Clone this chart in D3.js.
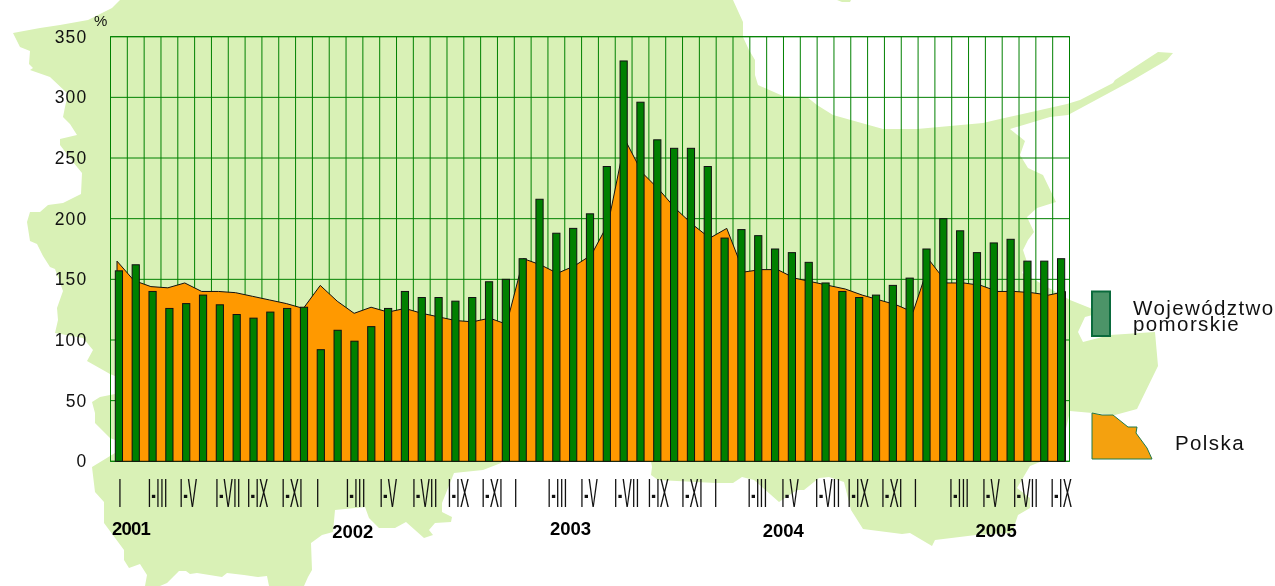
<!DOCTYPE html>
<html><head><meta charset="utf-8">
<script src="https://cdn.jsdelivr.net/npm/d3@7/dist/d3.min.js"></script>
<style>
html,body{margin:0;padding:0;background:#fff;overflow:hidden}
svg{display:block;will-change:transform}
text{font-family:"Liberation Sans",Arial,sans-serif;fill:#111}
</style></head><body>
<svg id="c" width="1275" height="586"></svg>
<script>
const months = d3.range(57);
const voivodeship = [157,162,140,126,130,137,129,121,118,123,126,127,
  92,108,99,111,126,140,135,135,132,135,148,150,
  167,216,188,192,204,243,330,296,265,258,258,243,
  184,191,186,175,172,164,147,140,135,137,145,151,
  175,200,190,172,180,183,165,165,167];
const poland = [165,149,144,143,147,140,140,139,136,133,130,126,
  145,132,122,127,123,126,122,119,116,115,118,113,
  167,162,155,161,170,196,265,238,224,208,195,184,
  192,156,158,158,151,148,145,142,137,133,129,123,
  165,147,147,145,140,140,139,137,140];
const yTicks = [0,50,100,150,200,250,300,350];
const romanLabels = ["I","I-III","I-V","I-VII","I-IX","I-XI"];
const years = ["2001","2002","2003","2004","2005"];
const seriesNames = ["Województwo","pomorskie","Polska"];

// decorative backdrop: silhouette of the region
const mapOutline = [[13,33],[40,28],[60,25],[88,20],[100,14],[112,8],[120,0],[733,0],[743,22],[743,37],[749,50],[755,60],[755,75],[758,85],[783,96],[807,97],[817,105],[833,115],[883,129],[917,129],[983,123],[1000,119],[1067,104],[1080,100],[1113,83],[1115,80],[1158,52],[1173,53],[1167,60],[1133,80],[1068,115],[1050,117],[1010,129],[1025,141],[1020,155],[1028,168],[1043,175],[1056,202],[1037,208],[1027,217],[1034,232],[1028,240],[1023,250],[1027,262],[1022,273],[1035,280],[1070,300],[1090,308],[1100,313],[1085,317],[1078,332],[1083,342],[1110,335],[1155,332],[1158,366],[1137,409],[1115,415],[1070,411],[1060,455],[1040,462],[1030,466],[1017,488],[1030,498],[1030,508],[1018,515],[1012,533],[976,535],[935,540],[932,546],[910,533],[902,534],[863,529],[851,510],[844,482],[829,477],[819,478],[804,490],[797,490],[779,502],[754,480],[742,477],[733,483],[715,483],[658,480],[651,475],[652,467],[650,455],[505,455],[501,463],[483,470],[454,473],[442,503],[442,512],[452,517],[451,522],[435,523],[429,530],[433,535],[424,538],[406,522],[395,528],[379,528],[369,518],[365,507],[335,510],[333,532],[322,535],[311,543],[312,570],[308,577],[304,586],[269,586],[267,576],[258,577],[244,575],[227,573],[222,577],[197,573],[190,574],[186,571],[179,571],[167,583],[160,586],[145,586],[147,575],[140,564],[129,568],[124,560],[124,550],[104,523],[104,502],[95,492],[92,467],[115,453],[115,440],[110,438],[95,423],[95,413],[92,402],[100,397],[115,394],[115,376],[110,374],[87,361],[93,350],[83,338],[55,333],[58,320],[57,308],[63,291],[55,269],[50,267],[43,256],[37,244],[30,241],[27,222],[30,212],[40,212],[48,205],[63,203],[81,194],[82,173],[73,162],[60,145],[60,139],[77,135],[70,124],[63,117],[65,107],[68,94],[50,77],[30,70],[33,68],[29,64],[30,51],[20,47]];
const tinyIsland = [[837,0],[851,0],[850,2],[842,2]];
const legendShape = [[1092,413],[1102,415],[1113,415],[1128,427],[1137,427],[1136,433],[1147,448],[1152,459],[1092,459]];

const plotL=110.5,plotR=1069.5,plotT=36.7,plotB=461.3;
const svg=d3.select("#c");
const x=d3.scaleBand().domain(months).range([plotL,plotR]);
const xArea=d3.scalePoint().domain(months).range([117,1065.5]);
const y=d3.scaleLinear().domain([0,350]).range([plotB,plotT]);
const closed=d3.line().curve(d3.curveLinearClosed);

svg.append("path").attr("d",closed(mapOutline)).attr("fill","#d9f1b6");
svg.append("path").attr("d",closed(tinyIsland)).attr("fill","#d9f1b6");

// grid
const grid=svg.append("g").attr("stroke","#008000").attr("stroke-width",1).attr("fill","none");
grid.selectAll("line.v").data(months.slice(1)).join("line").attr("class","v")
  .attr("x1",d=>x(d)).attr("x2",d=>x(d)).attr("y1",plotT).attr("y2",plotB);
grid.selectAll("line.h").data(yTicks).join("line").attr("class","h")
  .attr("x1",plotL).attr("x2",plotR).attr("y1",d=>y(d)).attr("y2",d=>y(d));
grid.append("rect").attr("x",plotL).attr("y",plotT).attr("width",plotR-plotL).attr("height",plotB-plotT);

// Polska area
const area=d3.area().x(i=>xArea(i)).y0(plotB).y1(i=>y(poland[i]));
svg.append("path").datum(months).attr("d",area).attr("fill","#ff9900").attr("stroke","#111").attr("stroke-width",1).attr("stroke-linejoin","miter");

// bars
const bw=7.2;
svg.append("g").selectAll("rect").data(months).join("rect")
  .attr("x",i=>x(i)+x.bandwidth()/2-bw/2).attr("width",bw)
  .attr("y",i=>y(voivodeship[i])).attr("height",i=>plotB-y(voivodeship[i]))
  .attr("fill","#008000").attr("stroke","#111").attr("stroke-width",1);

// y axis
const yAxis=d3.axisLeft(y).tickValues(yTicks).tickSize(0).tickPadding(0);
const gy=svg.append("g").attr("transform","translate(87.5,0)").call(yAxis);
gy.select(".domain").remove();
gy.selectAll("text").style("font-size","17.5px").style("letter-spacing","1.2px")
  .style("font-family",'"Liberation Sans",Arial,sans-serif').style("fill","#111");
svg.append("text").attr("x",94).attr("y",26).style("font-size","15px").text("%");

// x labels: tall condensed roman numerals every two months
const labelNudge=[1,5,2,8,4,5,-3,1,0,3,3,3,-7,1,-1,3,1,1,-9,-1,-2,2,-1,-1,-11,-1,-3,-2,0];
const xAxis=d3.axisBottom(x).tickValues(months.filter(i=>i%2===0)).tickSize(0).tickFormat(i=>romanLabels[(i%12)/2]);
const gx=svg.append("g").attr("transform",`translate(0,${plotB})`).call(xAxis);
gx.select(".domain").remove();
gx.selectAll("text").attr("y",0).attr("dy",0)
  .style("font-size","41px").style("font-family",'"Liberation Sans",Arial,sans-serif').style("fill","#111").style("font-weight","normal")
  .attr("transform",(i)=>`translate(${labelNudge[i/2]},46) scale(0.34,1)`);

// year labels
const yearBaseline=[535,538,535,537,537];
const yearNudge=[1.5,3,2,-4,7];
svg.append("g").selectAll("text").data(years).join("text")
  .attr("x",(d,k)=>x(k*12+[0,1,2,3,3][k]))
  .attr("y",(d,k)=>yearBaseline[k]).attr("dx",(d,k)=>yearNudge[k])
  .style("font-size","18.5px").style("font-weight","bold").style("fill","#000")
  .style("letter-spacing",(d,k)=>k===0?"-0.8px":"0").text(d=>d);

// legend
svg.append("rect").attr("x",1092).attr("y",291.5).attr("width",18).attr("height",44.5)
  .attr("fill","#4c9468").attr("stroke","#0a6a3c").attr("stroke-width",2);
svg.append("path").attr("d",closed(legendShape)).attr("fill","#f4a10f").attr("stroke","#1f7a4a").attr("stroke-width",1);
const lg=[[1133,315,0],[1133,331,1],[1175,450,2]];
svg.append("g").selectAll("text").data(lg).join("text").attr("x",d=>d[0]).attr("y",d=>d[1])
  .style("font-size","20.5px").style("letter-spacing","1.4px").text(d=>seriesNames[d[2]]);
</script>
</body></html>
